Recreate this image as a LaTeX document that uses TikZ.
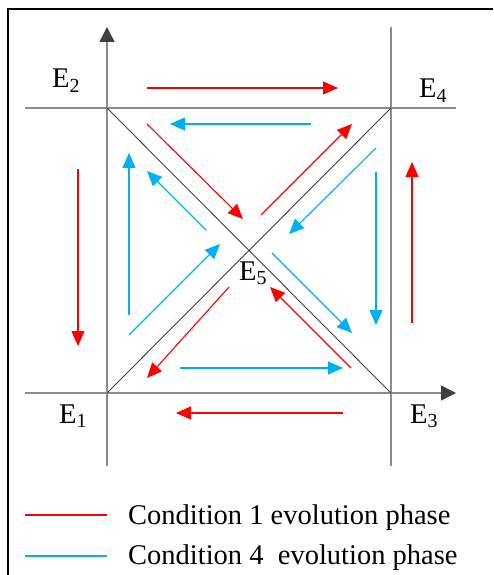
\documentclass[tikz,border=0pt]{standalone}
\usepackage{fontspec}
\setmainfont{Liberation Serif}
\usetikzlibrary{arrows.meta}
\definecolor{PhaseRed}{HTML}{FF0000}
\definecolor{PhaseBlue}{HTML}{00B0F0}
\definecolor{AxisGray}{HTML}{8C8C8C}
\definecolor{EdgeDark}{HTML}{404040}

\begin{document}
\begin{tikzpicture}[
  x=1pt, y=-1pt,
  font=\fontsize{28.5}{34}\selectfont,
  axis/.style={draw=AxisGray, line width=1.5pt},
  axisarrow/.style={axis, -{Triangle[length=15pt, width=15pt, color=EdgeDark]}},
  edge/.style={draw=EdgeDark, line width=0.9pt},
  phase/.style={line width=1.1pt, -{Triangle[length=15pt, width=13pt]}},
  redphase/.style={phase, draw=PhaseRed, fill=PhaseRed},
  bluephase/.style={phase, draw=PhaseBlue, fill=PhaseBlue},
  lab/.style={anchor=base west, inner sep=0pt}
]
\useasboundingbox (0,0) rectangle (493,575);

% frame
\draw[line width=1.5pt] (8,575) -- (8,9) -- (493,9);

% corner points
\coordinate (E1) at (107,393);
\coordinate (E2) at (107,108);
\coordinate (E3) at (391,393);
\coordinate (E4) at (391,108);
\coordinate (E5) at (249,250.5);

% axes
\draw[axisarrow] (107,466) -- (E1) -- (E2) -- (107,27);
\draw[axis] (391,466) -- (391,27);
\draw[axis] (25,108) -- (456,108);
\draw[axisarrow] (25,393) -- (456,393);

% diagonals
\draw[edge] (E2) -- (E3);
\draw[edge] (E1) -- (E4);

% labels
\node[lab] (e1lab) at (59,423) {E\textsubscript{1}};
\node[lab] (e2lab) at (52,87.5) {E\textsubscript{2}};
\node[lab] (e3lab) at (410,423) {E\textsubscript{3}};
\node[lab] (e4lab) at (419,98) {E\textsubscript{4}};
\node[lab] (e5lab) at (239,280) {E\textsubscript{5}};

% condition 1
\draw[redphase] (147,88) -- (338,88);
\draw[redphase] (78,169) -- (78,346);
\draw[redphase] (412,323) -- (412,162);
\draw[redphase] (343,413) -- (176,413);
\draw[redphase] (147,124) -- (243,219);
\draw[redphase] (261,215) -- (352,124);
\draw[redphase] (229,287) -- (147,378);
\draw[redphase] (351,368) -- (270,287);

% condition 4
\draw[bluephase] (311,124) -- (170,124);
\draw[bluephase] (129,315) -- (129,153);
\draw[bluephase] (376,172) -- (376,325);
\draw[bluephase] (180,368) -- (343,368);
\draw[bluephase] (206,230) -- (147,171);
\draw[bluephase] (376,148) -- (289,234);
\draw[bluephase] (129,335) -- (220,244);
\draw[bluephase] (272,253) -- (352,333);

% legend
\node[lab] (leg1) at (128,524) {Condition 1 evolution phase};
\node[lab] (leg4) at (128,564) {Condition 4\ \ evolution phase};
\draw[draw=PhaseRed, line width=1.1pt] (25,515) -- (107,515);
\draw[draw=PhaseBlue, line width=1.1pt] (25,556) -- (107,556);
\end{tikzpicture}
\end{document}
